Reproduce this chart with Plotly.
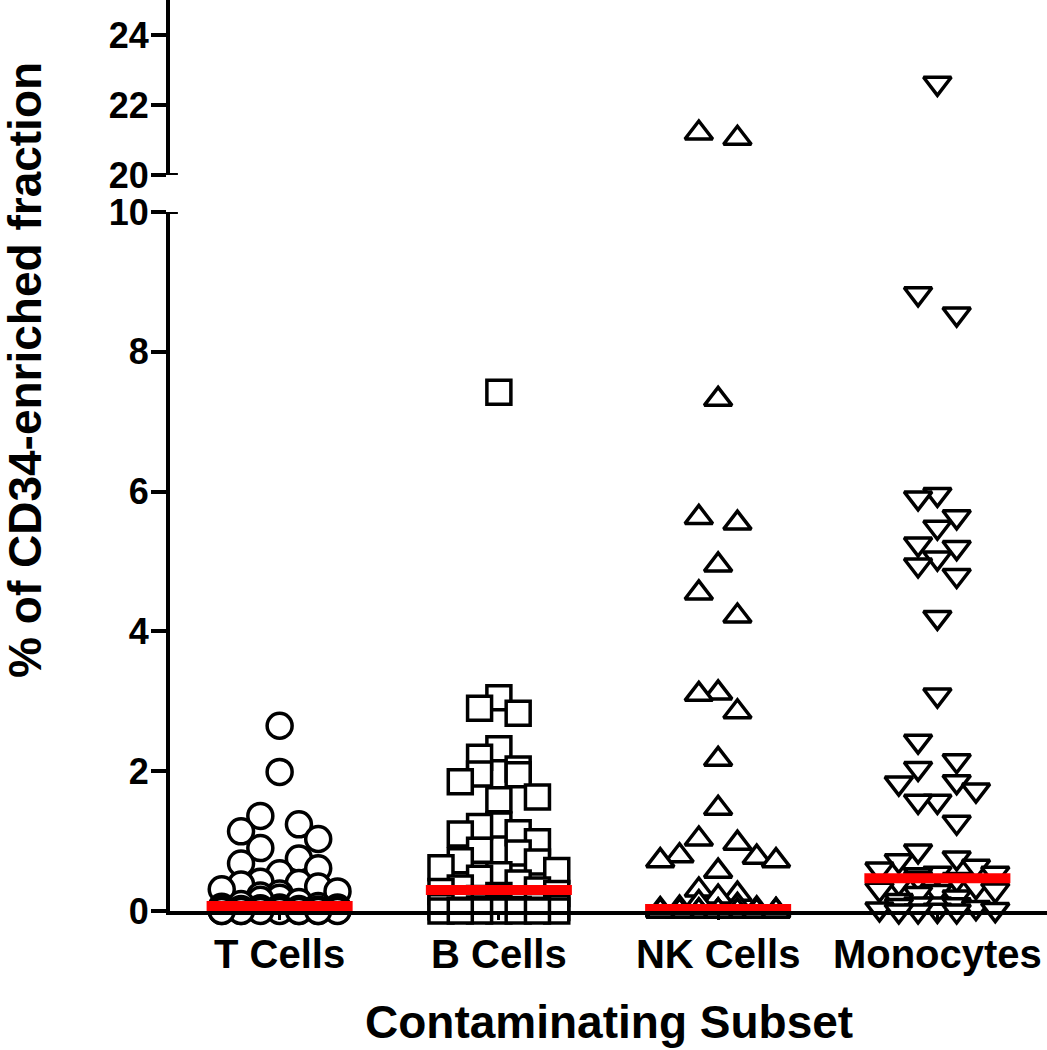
import plotly.graph_objects as go

# ---------------- data ----------------
CATEGORIES = ["T Cells", "B Cells", "NK Cells", "Monocytes"]

T_CELLS = [2.65, 1.99, 1.36, 1.24, 1.14, 1.03, 0.90, 0.75, 0.68, 0.61, 0.54,
           0.42, 0.40, 0.38, 0.35, 0.31, 0.28, 0.25, 0.22, 0.19, 0.16, 0.13, 0.10,
           0.07, 0.06, 0.05, 0.05, 0.04, 0.03, 0.03, 0.02, 0.02, 0.01, 0.01, 0.01,
           0, 0, 0, 0, 0, 0, 0, 0, 0, 0, 0]

B_CELLS = [7.42, 3.05, 2.90, 2.83, 2.32, 2.20, 2.03, 1.96, 1.95, 1.85, 1.63, 1.59,
           1.23, 1.21, 1.12, 1.10, 0.99, 0.87, 0.83, 0.72, 0.70, 0.62, 0.58, 0.52, 0.47,
           0.40, 0.33, 0.30, 0.28, 0.25, 0.22, 0.18, 0.15, 0.12, 0.10,
           0.08, 0.06, 0.05, 0.04, 0.03, 0.02, 0.01, 0.01, 0, 0, 0, 0, 0, 0, 0]

NK_CELLS = [21.2, 21.05, 7.32, 5.63, 5.55, 4.95, 4.55, 4.22, 3.12, 3.10, 2.85, 2.17,
            1.47, 1.03, 0.97, 0.79, 0.77, 0.72, 0.72, 0.57,
            0.30, 0.24, 0.20, 0.12, 0.08, 0.04, 0.03, 0.02, 0.01,
            0, 0, 0, 0, 0, 0, 0, 0, 0, 0, 0, 0, 0, 0, 0, 0, 0, 0, 0, 0, 0, 0]

MONOCYTES = [22.62, 8.83, 8.54, 5.96, 5.91, 5.64, 5.49, 5.25, 5.20, 5.05, 4.95, 4.80,
             4.20, 3.09, 2.43, 2.15, 2.04, 1.85, 1.83, 1.73, 1.57, 1.57, 1.27,
             0.86, 0.76, 0.72, 0.64, 0.60, 0.54, 0.54, 0.52, 0.47, 0.45, 0.40, 0.35,
             0.31, 0.30, 0.28, 0.25, 0.20, 0.15, 0.10, 0.10, 0.09, 0.08, 0.05, 0.03,
             0.02, 0.01, 0, 0, 0]

MEDIANS = [0.07, 0.30, 0.03, 0.47]

LOWER_TICKS = [0, 2, 4, 6, 8, 10]
UPPER_TICKS = [20, 22, 24]

SERIES = [T_CELLS, B_CELLS, NK_CELLS, MONOCYTES]
SYMBOLS = ["circle", "square", "triangle-up", "triangle-down"]
SIZES = [25, 24, 24, 24]

# ---------------- layout geometry ----------------
W, H = 1047, 1050
ML, MB = 170, 139
PLOT_H = H - MB                       # 911 px
LOW_RANGE = [0, 10]
UP_RANGE = [20, 25]
LOW_TOP_PX = 699                       # px height of lower segment
UP_BOTTOM_PX = 736
LOW_DOMAIN = [0, LOW_TOP_PX / PLOT_H]
UP_DOMAIN = [UP_BOTTOM_PX / PLOT_H, 1]
BREAK = 15


def to_px(v):
    """screen height (px above baseline) of a value on the broken axis"""
    if v < BREAK:
        return v * LOW_TOP_PX / (LOW_RANGE[1] - LOW_RANGE[0])
    return UP_BOTTOM_PX + (v - UP_RANGE[0]) * (PLOT_H - UP_BOTTOM_PX) / (UP_RANGE[1] - UP_RANGE[0])


def swarm(values, step=0.088, row_h=24):
    """row-centred column scatter (like a GraphPad dot plot)"""
    order = sorted(range(len(values)), key=lambda k: -values[k])
    offs = [0.0] * len(values)
    rows, cur, start = [], [], None
    for k in order:
        p = to_px(values[k])
        if cur and start - p > row_h:
            rows.append(cur)
            cur = []
        if not cur:
            start = p
        cur.append(k)
    if cur:
        rows.append(cur)
    odd_slots = [0, -1, 1, -2, 2, -3, 3]
    even_slots = [-1, 1, -2, 2, -3, 3, 0]
    for row in rows:
        slots = odd_slots if len(row) % 2 else even_slots
        for j, k in enumerate(row):
            offs[k] = slots[j % len(slots)] * step
    return offs


fig = go.Figure()
for i, vals in enumerate(SERIES):
    offs = swarm(vals)
    for axis, keep in (("y", lambda v: v < BREAK), ("y2", lambda v: v >= BREAK)):
        xs = [i + o for v, o in zip(vals, offs) if keep(v)]
        ys = [v for v in vals if keep(v)]
        if not ys:
            continue
        fig.add_trace(go.Scatter(
            x=xs, y=ys, yaxis=axis, mode="markers", cliponaxis=False,
            showlegend=False, hoverinfo="y",
            marker=dict(symbol=SYMBOLS[i], size=SIZES[i], color="white",
                        line=dict(color="black", width=3.5)),
        ))

for i, m in enumerate(MEDIANS):
    fig.add_trace(go.Scatter(
        x=[i - 0.333, i + 0.333], y=[m, m], mode="lines", cliponaxis=False,
        showlegend=False, line=dict(color="#ff0000", width=10),
    ))

FONT = "Liberation Sans, Arial, sans-serif"
axis_style = dict(showline=True, linecolor="black", linewidth=4, ticks="outside",
                  tickcolor="black", showgrid=False, zeroline=False, automargin=False,
                  tickfont=dict(family=FONT, size=36, color="black", weight="bold"))

fig.update_layout(
    width=W, height=H, margin=dict(l=ML, r=0, t=0, b=MB, autoexpand=False),
    paper_bgcolor="white", plot_bgcolor="white",
    xaxis=dict(range=[-0.5, 3.5], tickvals=list(range(len(CATEGORIES))),
               ticktext=CATEGORIES, ticklen=5, tickwidth=3,
               **{k: v for k, v in axis_style.items() if k != "tickfont"},
               tickfont=dict(family=FONT, size=40, color="black", weight="bold")),
    yaxis=dict(domain=LOW_DOMAIN, range=LOW_RANGE, tickvals=LOWER_TICKS,
               ticklen=15, tickwidth=4, ticklabelstandoff=-5, **axis_style),
    yaxis2=dict(domain=UP_DOMAIN, range=UP_RANGE, tickvals=UPPER_TICKS, anchor="x",
                ticklen=15, tickwidth=4, ticklabelstandoff=-5, **axis_style),
    shapes=[
        dict(type="line", xref="paper", yref="y", x0=-0.018, x1=0.009, y0=10, y1=10,
             line=dict(color="black", width=4)),
        dict(type="line", xref="paper", yref="y2", x0=-0.018, x1=0.009, y0=20, y1=20,
             line=dict(color="black", width=4)),
    ],
    annotations=[
        dict(text="% of CD34-enriched fraction", textangle=-90, showarrow=False,
             xref="paper", yref="paper", x=-0.1653, y=0.594,
             xanchor="center", yanchor="middle",
             font=dict(family=FONT, size=46, color="black", weight="bold")),
        dict(text="Contaminating Subset", showarrow=False,
             xref="paper", yref="paper", x=0.5, y=-0.1218,
             xanchor="center", yanchor="middle",
             font=dict(family=FONT, size=46, color="black", weight="bold")),
    ],
)

# remove the browser's default 8px page margin so the figure fills the window
fig.write_html("out.html", config={"displayModeBar": False},
               post_script="document.body.style.margin='0';document.body.style.overflow='hidden';")
